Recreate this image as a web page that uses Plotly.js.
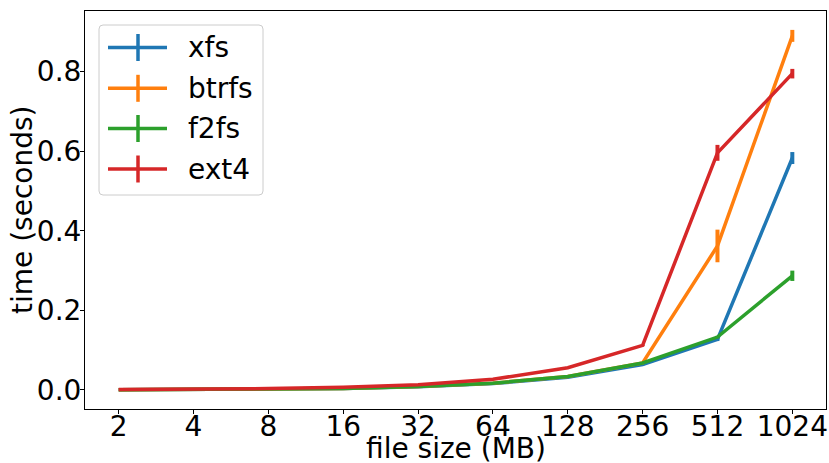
<!DOCTYPE html>
<html>
<head>
<meta charset="utf-8">
<script src="https://cdn.plot.ly/plotly-3.0.1.min.js"></script>
<style>html,body{margin:0;padding:0;background:#fff;}#chart{width:829px;height:463px;}</style>
</head>
<body>
<div id="chart"></div>
<script>
const sizes = ['2','4','8','16','32','64','128','256','512','1024'];
const seriesNames = ['xfs','btrfs','f2fs','ext4'];
const colors = ['#1f77b4','#ff7f0e','#2ca02c','#d62728'];
const xfs      = [0.0005,0.001,0.002,0.004,0.008,0.016,0.032,0.064,0.127,0.583];
const xfsErr   = [0,0,0,0.0002,0.0003,0.0005,0.001,0.002,0.004,0.015];
const btrfs    = [0.0005,0.001,0.002,0.004,0.009,0.017,0.034,0.068,0.362,0.890];
const btrfsErr = [0,0,0,0.0002,0.0003,0.0005,0.001,0.002,0.041,0.015];
const f2fs     = [0.0005,0.001,0.002,0.004,0.009,0.017,0.034,0.068,0.133,0.287];
const f2fsErr  = [0,0,0,0.0002,0.0003,0.0005,0.001,0.002,0.003,0.013];
const ext4     = [0.001,0.002,0.0035,0.007,0.013,0.027,0.056,0.112,0.596,0.795];
const ext4Err  = [0,0,0,0.0002,0.0003,0.0005,0.001,0.002,0.020,0.012];
const values = [xfs, btrfs, f2fs, ext4];
const errors = [xfsErr, btrfsErr, f2fsErr, ext4Err];
const xTitle = 'file size (MB)';
const yTitle = 'time (seconds)';

const FONT = 'DejaVu Sans, sans-serif';
const FS = 28;

const traces = seriesNames.map((name, i) => ({
  type: 'scatter', mode: 'lines', name: name,
  x: sizes, y: values[i],
  line: {color: colors[i], width: 3.5},
  error_y: {type: 'data', array: errors[i], visible: true, color: colors[i], thickness: 4, width: 0},
  showlegend: false
}));

// custom legend (pixel -> paper)
const L = 85, R = 826, T = 11, B = 409;
const px = v => (v - L) / (R - L);
const py = v => (B - v) / (B - T);
const shapes = [];
const annotations = [];
const bx0 = 99, bx1 = 263, by0 = 25, by1 = 195, r = 4;
shapes.push({
  type: 'path', xref: 'paper', yref: 'paper',
  path: `M ${px(bx0+r)} ${py(by0)} L ${px(bx1-r)} ${py(by0)} Q ${px(bx1)} ${py(by0)} ${px(bx1)} ${py(by0+r)} L ${px(bx1)} ${py(by1-r)} Q ${px(bx1)} ${py(by1)} ${px(bx1-r)} ${py(by1)} L ${px(bx0+r)} ${py(by1)} Q ${px(bx0)} ${py(by1)} ${px(bx0)} ${py(by1-r)} L ${px(bx0)} ${py(by0+r)} Q ${px(bx0)} ${py(by0)} ${px(bx0+r)} ${py(by0)} Z`,
  fillcolor: 'rgba(255,255,255,0.8)', line: {color: '#cccccc', width: 1}
});
const rowY = [47.5, 88.3, 128.5, 169];
seriesNames.forEach((name, i) => {
  const yy = rowY[i];
  shapes.push({type: 'line', xref: 'paper', yref: 'paper', x0: px(108), x1: px(167), y0: py(yy), y1: py(yy), line: {color: colors[i], width: 3.5}});
  shapes.push({type: 'line', xref: 'paper', yref: 'paper', x0: px(138), x1: px(138), y0: py(yy-13.5), y1: py(yy+13.5), line: {color: colors[i], width: 3.5}});
  annotations.push({xref: 'paper', yref: 'paper', x: px(186), y: py(yy), text: name, showarrow: false, xanchor: 'left', yanchor: 'middle', font: {family: FONT, size: FS, color: '#000'}});
});
// axis titles
annotations.push({xref: 'paper', yref: 'paper', x: 0.5, y: py(448), text: xTitle, showarrow: false, xanchor: 'center', yanchor: 'middle', font: {family: FONT, size: FS, color: '#000'}});
annotations.push({xref: 'paper', yref: 'paper', x: px(22), y: 0.5, text: yTitle, textangle: -90, showarrow: false, xanchor: 'center', yanchor: 'middle', font: {family: FONT, size: FS, color: '#000'}});

const layout = {
  width: 829, height: 463,
  margin: {l: L, r: 829 - R, t: T, b: 463 - B},
  paper_bgcolor: '#fff', plot_bgcolor: '#fff',
  font: {family: FONT, size: FS, color: '#000'},
  xaxis: {
    type: 'category', range: [-0.45, 9.45],
    showline: true, mirror: true, linecolor: '#000', linewidth: 1,
    ticks: 'outside', ticklen: 4, tickwidth: 1, tickcolor: '#000',
    showgrid: false, zeroline: false, ticklabelstandoff: -12,
    tickfont: {family: FONT, size: FS, color: '#000'}
  },
  yaxis: {
    range: [-0.0478, 0.9525], tickvals: [0, 0.2, 0.4, 0.6, 0.8], tickformat: '.1f',
    showline: true, mirror: true, linecolor: '#000', linewidth: 1,
    ticks: 'outside', ticklen: 4, tickwidth: 1, tickcolor: '#000',
    showgrid: false, zeroline: false, ticklabelstandoff: -7,
    tickfont: {family: FONT, size: FS, color: '#000'}
  },
  shapes: shapes,
  annotations: annotations,
  showlegend: false
};

Plotly.newPlot('chart', traces, layout, {displayModeBar: false, staticPlot: true});
</script>
</body>
</html>
